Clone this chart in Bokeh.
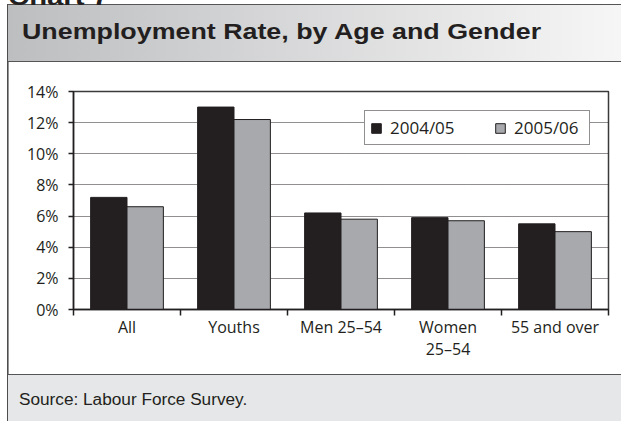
import numpy as np
from bokeh.plotting import figure
from bokeh.layouts import column
from bokeh.models import (ColumnDataSource, FixedTicker, PrintfTickFormatter, Legend,
                          LegendItem, Range1d, Div)
from bokeh.transform import dodge
from bokeh.embed import file_html
from bokeh.resources import INLINE

# ---- data ----
categories = ["All", "Youths", "Men 25–54", "Women\n25–54", "55 and over"]
series_names = ["2004/05", "2005/06"]
rate_2004_05 = [7.2, 13.0, 6.2, 5.9, 5.5]
rate_2005_06 = [6.6, 12.2, 5.8, 5.7, 5.0]
y_ticks = [0, 2, 4, 6, 8, 10, 12, 14]
chart_label = "Chart 7"
title_text = "Unemployment Rate, by Age and Gender"
source_text = "Source: Labour Force Survey."

INK = "#231f20"
GREY = "#a7a9ac"
FONT = "Open Sans"
RULE = "#555555"

n = len(categories)
centers = list(np.arange(n) + 0.5)

# ---------------- header ----------------
header_html = f"""
<div style="position:relative;width:621px;height:62px;overflow:hidden;margin:0;padding:0;">
  <div style="position:absolute;left:7.2px;top:3.5px;width:613.8px;height:58.5px;box-sizing:border-box;
       background:linear-gradient(to right,#bdbec0,#f6f6f6);
       border-top:1.5px solid {RULE};border-bottom:1.5px solid {RULE};border-left:1.6px solid #4d4d4d;"></div>
  <div style="position:absolute;left:8px;top:-14.8px;white-space:nowrap;font-family:'Liberation Sans';
       font-weight:bold;font-size:24px;line-height:24px;color:{INK};
       transform:scaleX(1.22);transform-origin:0 0;">{chart_label}</div>
  <div style="position:absolute;left:22px;top:21.4px;white-space:nowrap;font-family:'Liberation Sans';
       font-weight:bold;font-size:22px;line-height:22px;color:{INK};
       transform:scaleX(1.219);transform-origin:0 0;">{title_text}</div>
</div>
"""
header = Div(text=header_html, width=621, height=62, margin=0)

# ---------------- chart ----------------
p = figure(width=621, height=312, x_range=Range1d(0, n), y_range=Range1d(0, 14),
           output_backend="svg", toolbar_location=None, title=None,
           min_border_left=73, min_border_right=13, min_border_top=29, min_border_bottom=65,
           background_fill_color="white", border_fill_color=None, margin=0)
p.styles = {"background": "linear-gradient(#4d4d4d,#4d4d4d) 7.2px 0 / 1.6px 100% no-repeat"}

src = ColumnDataSource(dict(x=centers, a=rate_2004_05, b=rate_2005_06))
r1 = p.vbar(x=dodge("x", -0.17, range=p.x_range), top="a", width=0.34, source=src,
            fill_color=INK, line_color=INK, line_width=1)
r2 = p.vbar(x=dodge("x", 0.17, range=p.x_range), top="b", width=0.34, source=src,
            fill_color=GREY, line_color=INK, line_width=1)

xa = p.xaxis[0]
xa.ticker = FixedTicker(ticks=centers, minor_ticks=list(range(n + 1)))
xa.major_label_overrides = {c: lab for c, lab in zip(centers, categories)}
xa.major_tick_out = 0
xa.major_tick_in = 0
xa.minor_tick_out = 6
xa.minor_tick_in = 0
xa.minor_tick_line_color = INK
xa.minor_tick_line_width = 1.5
xa.axis_line_color = INK
xa.axis_line_width = 1.5
xa.major_label_standoff = 0
xa.major_label_text_font = FONT
xa.major_label_text_font_size = "16px"
xa.major_label_text_line_height = 1.0
xa.major_label_text_color = INK

ya = p.yaxis[0]
ya.ticker = FixedTicker(ticks=y_ticks, minor_ticks=[])
ya.formatter = PrintfTickFormatter(format="%d%%")
ya.major_tick_out = 5
ya.major_tick_in = 0
ya.major_tick_line_color = INK
ya.major_tick_line_width = 1.5
ya.axis_line_color = INK
ya.axis_line_width = 1.5
ya.major_label_standoff = 10
ya.major_label_text_font = FONT
ya.major_label_text_font_size = "16px"
ya.major_label_text_color = INK

p.xgrid.visible = False
p.ygrid.ticker = FixedTicker(ticks=y_ticks)
p.ygrid.grid_line_color = INK
p.ygrid.grid_line_dash = "1 1"
p.ygrid.grid_line_width = 1

p.outline_line_color = "#3a3a3a"
p.outline_line_width = 1.5

legend = Legend(items=[LegendItem(label=series_names[0], renderers=[r1]),
                       LegendItem(label=series_names[1], renderers=[r2])],
                orientation="horizontal", location=(291, 164),
                border_line_color=INK, border_line_width=1.5, background_fill_alpha=1,
                background_fill_color="white", padding=5, margin=0,
                glyph_width=12, glyph_height=12, label_standoff=8, spacing=34,
                label_width=70,
                label_text_font=FONT, label_text_font_size="17px", label_text_color=INK)
p.add_layout(legend)

# ---------------- footer ----------------
footer_html = f"""
<div style="position:relative;width:621px;height:47px;overflow:hidden;margin:0;padding:0;">
  <div style="position:absolute;left:7.2px;top:-0.5px;width:613.8px;height:47.5px;box-sizing:border-box;
       background:#e6e7e8;border-top:1.5px solid {RULE};border-left:1.6px solid #4d4d4d;"></div>
  <div style="position:absolute;left:19px;top:18.2px;white-space:nowrap;font-family:'Liberation Sans';
       font-size:16px;line-height:16px;color:{INK};
       transform:scaleX(1.075);transform-origin:0 0;">{source_text}</div>
</div>
"""
footer = Div(text=footer_html, width=621, height=47, margin=0)

page = column(header, p, footer, spacing=0, margin=0)
open("out.html", "w").write(file_html(page, INLINE))
